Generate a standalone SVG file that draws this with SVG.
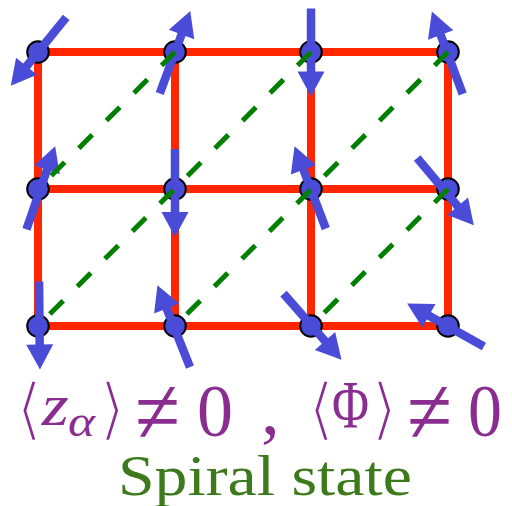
<svg xmlns="http://www.w3.org/2000/svg" xmlns:xlink="http://www.w3.org/1999/xlink" width="512" height="506" viewBox="0 0 512 506">
<style>
.bond{stroke:#ff2600;stroke-width:8;fill:none}
.diag{stroke:#007f00;stroke-width:5;stroke-dasharray:19 20;fill:none}
.site{fill:#4a4cd8;stroke:#000;stroke-width:2}
.spin{fill:#4a4cd8}
.math{fill:#8a2d91;font-family:"Liberation Serif",serif}
.br{fill:#8a2d91;stroke:#fff;stroke-width:2.6;font-family:"DejaVu Sans",sans-serif}
.label{fill:#3c7a1c;font-family:"Liberation Serif",serif}
</style>
<defs>
<g id="arrow">
<rect x="-44" y="-4.25" width="64" height="8.5"/>
<polygon points="19,-13.5 44,0 19,13.5"/>
</g>
</defs>
<g id="bonds">
<line class="bond" x1="38" y1="52" x2="448" y2="52"/>
<line class="bond" x1="38" y1="189" x2="448" y2="189"/>
<line class="bond" x1="38" y1="326" x2="448" y2="326"/>
<line class="bond" x1="38" y1="52" x2="38" y2="326"/>
<line class="bond" x1="175" y1="52" x2="175" y2="326"/>
<line class="bond" x1="311" y1="52" x2="311" y2="326"/>
<line class="bond" x1="448" y1="52" x2="448" y2="326"/>
</g>
<g id="site-1-1"><circle class="site" cx="38" cy="52" r="10.8"/><use class="spin" xlink:href="#arrow" href="#arrow" transform="translate(38.5,51.5) rotate(129)"/></g>
<g id="site-1-2"><circle class="site" cx="175" cy="52" r="10.8"/><use class="spin" xlink:href="#arrow" href="#arrow" transform="translate(175,52.3) rotate(-69.7)"/></g>
<g id="site-1-3"><circle class="site" cx="311" cy="52" r="10.8"/><use class="spin" xlink:href="#arrow" href="#arrow" transform="translate(311,52.5) rotate(90)"/></g>
<g id="site-1-4"><circle class="site" cx="448" cy="52" r="10.8"/><use class="spin" xlink:href="#arrow" href="#arrow" transform="translate(447.3,52.8) rotate(-110.5)"/></g>
<g id="site-2-1"><circle class="site" cx="38" cy="189" r="10.8"/><use class="spin" xlink:href="#arrow" href="#arrow" transform="translate(40.8,187.8) rotate(-71)"/></g>
<g id="site-2-2"><circle class="site" cx="175" cy="189" r="10.8"/><use class="spin" xlink:href="#arrow" href="#arrow" transform="translate(175,193) rotate(90)"/></g>
<g id="site-2-3"><circle class="site" cx="311" cy="189" r="10.8"/><use class="spin" xlink:href="#arrow" href="#arrow" transform="translate(310.2,187.5) rotate(-110.8)"/></g>
<g id="site-2-4"><circle class="site" cx="448" cy="189" r="10.8"/><use class="spin" xlink:href="#arrow" href="#arrow" transform="translate(445.5,191.7) rotate(49.9)"/></g>
<g id="site-3-1"><circle class="site" cx="38" cy="326" r="10.8"/><use class="spin" xlink:href="#arrow" href="#arrow" transform="translate(39.5,325.5) rotate(89.4)"/></g>
<g id="site-3-2"><circle class="site" cx="175" cy="326" r="10.8"/><use class="spin" xlink:href="#arrow" href="#arrow" transform="translate(173.7,326.2) rotate(-111.7)"/></g>
<g id="site-3-3"><circle class="site" cx="311" cy="326" r="10.8"/><use class="spin" xlink:href="#arrow" href="#arrow" transform="translate(312.5,326.7) rotate(48.8)"/></g>
<g id="site-3-4"><circle class="site" cx="448" cy="326" r="10.8"/><use class="spin" xlink:href="#arrow" href="#arrow" transform="translate(445.5,325) rotate(-150.8)"/></g>
<g id="diagonals">
<line class="diag" x1="175" y1="52" x2="38" y2="189"/>
<line class="diag" x1="311" y1="52" x2="38" y2="326"/>
<line class="diag" x1="448" y1="52" x2="175" y2="326"/>
<line class="diag" x1="448" y1="189" x2="311" y2="326"/>
</g>
<g id="order-parameter">
<text class="br" x="16" y="432" font-size="68">⟨</text>
<text class="math" x="41.7" y="425" font-size="60" font-style="italic" textLength="27" lengthAdjust="spacingAndGlyphs">z</text>
<text class="math" x="68" y="436" font-size="44" font-style="italic" textLength="27" lengthAdjust="spacingAndGlyphs">α</text>
<text class="br" x="99" y="432" font-size="68">⟩</text>
<text class="math" x="135" y="437" font-size="75" textLength="45" lengthAdjust="spacingAndGlyphs" transform="translate(0,414) scale(1,1.25) translate(0,-414)">≠</text>
<text class="math" x="197" y="436" font-size="75" textLength="36" lengthAdjust="spacingAndGlyphs">0</text>
<text class="math" x="261" y="434" font-size="75">,</text>
<text class="br" x="308" y="432" font-size="68">⟨</text>
<text class="math" x="332" y="427" font-size="68" textLength="37" lengthAdjust="spacingAndGlyphs">Φ</text>
<text class="br" x="371" y="432" font-size="68">⟩</text>
<text class="math" x="407" y="437" font-size="75" textLength="45" lengthAdjust="spacingAndGlyphs" transform="translate(0,414) scale(1,1.25) translate(0,-414)">≠</text>
<text class="math" x="468" y="436" font-size="75" textLength="34" lengthAdjust="spacingAndGlyphs">0</text>
</g>
<text id="state-label" class="label" x="118" y="495" font-size="57" textLength="294" lengthAdjust="spacingAndGlyphs">Spiral state</text>
</svg>
